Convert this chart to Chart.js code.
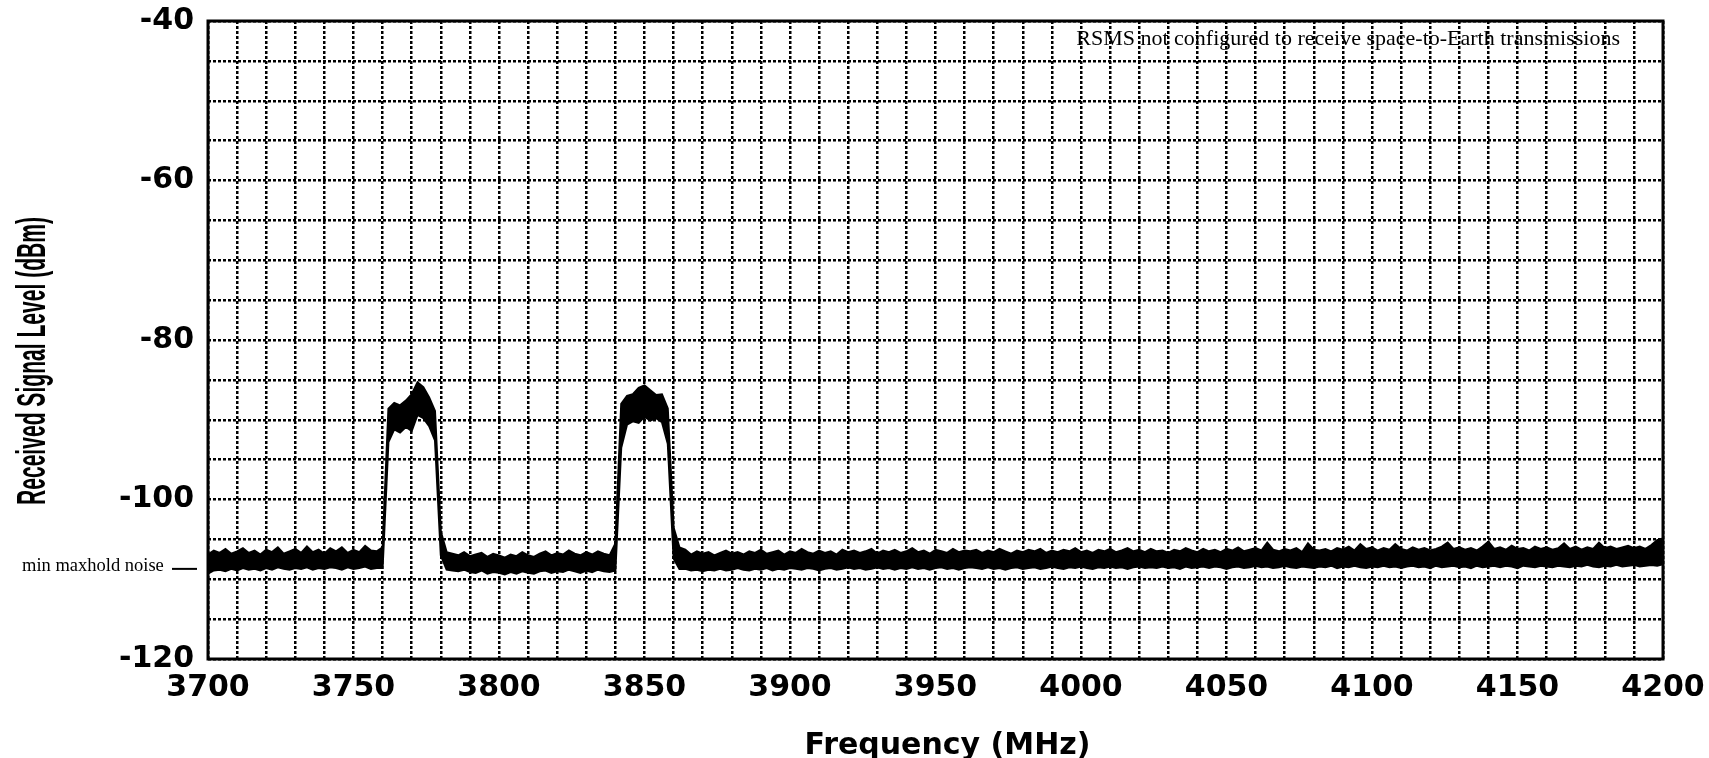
<!DOCTYPE html>
<html>
<head>
<meta charset="utf-8">
<script src="https://cdn.jsdelivr.net/npm/chart.js@4.4.1/dist/chart.umd.min.js"></script>
<style>
  html, body { margin: 0; padding: 0; background: #fff; }
  #wrap { width: 1709px; height: 758px; position: relative; }
</style>
</head>
<body>
<div id="wrap"><canvas id="spectrum_canvas"></canvas></div>
<script>
// spectrum sweep, one bin every 2 MHz
const freqs = [];
for (let f = 3700; f <= 4200; f += 2) freqs.push(f);

// max of the trace in each bin (dBm)
const traceMax = [
  -106.9, -106.4, -106.7, -106.2, -106.8, -106.5, -106.1, -106.7, -106.4, -106.9,
  -106.3, -106.6, -106.0, -106.8, -106.5, -106.2, -106.7, -105.9, -106.6, -106.3,
  -106.8, -106.1, -106.5, -106.0, -106.7, -106.3, -106.6, -105.8, -106.4, -106.5,
  -106.0,
  -88.6, -87.9, -88.2, -87.6, -86.8, -85.3, -85.9, -87.2, -88.9,
  -104.0, -106.6,
  -106.8, -107.0, -106.6, -107.1, -106.9, -106.7, -107.2, -106.8, -107.0, -107.3,
  -106.9, -107.1, -106.6, -107.0, -107.2, -106.8, -106.5, -107.0, -106.7, -106.9,
  -106.4, -106.8, -107.0, -106.6, -106.9, -106.5, -106.8, -107.0,
  -105.5,
  -88.0, -87.0, -86.8, -86.0, -85.7, -86.3, -86.9, -86.8, -88.6,
  -103.5, -106.0,
  -106.3, -106.9, -106.5, -106.8, -106.6, -107.0, -106.7, -106.4, -106.8, -106.6,
  -106.9, -106.5, -106.7, -106.3, -106.8, -106.6, -106.4, -106.9, -106.5, -106.7,
  -106.2, -106.6, -106.8, -106.4, -106.7, -106.5, -106.9, -106.3, -106.6, -106.4,
  -106.7, -106.5, -106.2, -106.8, -106.4, -106.6, -106.3, -106.7, -106.5, -106.1,
  -106.6, -106.4, -106.8, -106.3, -106.5, -106.7, -106.2, -106.6, -106.4, -106.5,
  -106.3, -106.7, -106.4, -106.6, -106.2, -106.5, -106.8, -106.4, -106.6, -106.3,
  -106.5, -106.2, -106.7, -106.4, -106.6, -106.3, -106.5, -106.1, -106.6, -106.4,
  -106.7, -106.3, -106.5, -106.2, -106.6, -106.4, -106.1, -106.5, -106.3, -106.6,
  -106.2, -106.5, -106.4, -106.7, -106.3, -106.5, -106.1, -106.4, -106.6, -106.2,
  -106.5, -106.3, -106.6, -106.2, -106.4, -106.0, -106.5, -106.3, -106.1, -106.4,
  -105.4, -106.3, -106.5, -106.2, -106.4, -106.1, -106.6, -105.5, -106.3, -106.4,
  -106.2, -106.5, -106.1, -106.3, -105.9, -106.4, -105.6, -106.2, -106.0, -106.4,
  -106.1, -106.3, -105.6, -106.2, -106.4, -106.0, -106.3, -106.1, -106.4, -106.2,
  -105.9, -105.4, -106.2, -106.0, -106.3, -106.1, -106.4, -105.9, -105.3, -106.2,
  -106.0, -106.3, -105.8, -106.2, -106.1, -106.4, -105.9, -106.2, -106.0, -106.3,
  -106.1, -105.5, -106.2, -105.9, -106.3, -106.0, -106.2, -105.4, -106.1, -105.9,
  -106.2, -106.0, -105.8, -106.1, -105.9, -106.2, -105.7, -105.1, -104.9
];

// min of the trace in each bin (dBm)
const traceMin = [
  -109.3, -108.9, -108.8, -109.0, -108.7, -108.9, -108.6, -108.8, -108.7, -108.9,
  -108.6, -108.8, -108.5, -108.7, -108.8, -108.6, -108.7, -108.5, -108.8, -108.6,
  -108.7, -108.5, -108.6, -108.8, -108.5, -108.7, -108.6, -108.4, -108.7, -108.6,
  -108.6,
  -92.8, -91.2, -91.6, -90.9, -91.4, -89.4, -89.8, -90.8, -92.6,
  -107.0, -108.8,
  -108.9, -109.0, -108.8, -109.1, -109.2, -108.9, -109.3, -109.1, -109.2, -109.4,
  -109.1, -109.3, -109.0, -109.2, -109.3, -109.0, -108.9, -109.2, -109.0, -109.1,
  -108.8, -109.0, -109.2, -108.9, -109.1, -108.8, -109.0, -109.1,
  -108.9,
  -93.5, -90.6, -90.2, -90.4, -89.6, -90.1, -89.8, -90.3, -93.0,
  -107.4, -108.7,
  -108.7, -108.9, -108.8, -109.0, -108.8, -108.9, -108.7, -108.9, -108.8, -108.6,
  -108.8, -108.9, -108.7, -108.8, -108.6, -108.9, -108.7, -108.8, -108.6, -108.7,
  -108.8, -108.6, -108.7, -108.9, -108.7, -108.6, -108.8, -108.7, -108.5, -108.7,
  -108.6, -108.8, -108.7, -108.5, -108.7, -108.6, -108.8, -108.6, -108.7, -108.5,
  -108.7, -108.6, -108.8, -108.6, -108.5, -108.7, -108.6, -108.8, -108.6, -108.5,
  -108.6, -108.7, -108.5, -108.7, -108.6, -108.8, -108.6, -108.5, -108.7, -108.6,
  -108.5, -108.7, -108.6, -108.4, -108.6, -108.7, -108.5, -108.6, -108.4, -108.6,
  -108.7, -108.5, -108.6, -108.4, -108.6, -108.5, -108.7, -108.5, -108.4, -108.6,
  -108.5, -108.6, -108.4, -108.6, -108.5, -108.7, -108.4, -108.6, -108.5, -108.4,
  -108.6, -108.4, -108.5, -108.7, -108.5, -108.4, -108.6, -108.5, -108.3, -108.5,
  -108.4, -108.6, -108.5, -108.3, -108.5, -108.6, -108.4, -108.5, -108.6, -108.4,
  -108.5, -108.3, -108.6, -108.4, -108.5, -108.3, -108.5, -108.6, -108.4, -108.5,
  -108.3, -108.5, -108.4, -108.6, -108.4, -108.3, -108.5, -108.4, -108.6, -108.3,
  -108.5, -108.4, -108.3, -108.5, -108.4, -108.6, -108.3, -108.5, -108.4, -108.3,
  -108.5, -108.3, -108.4, -108.6, -108.3, -108.4, -108.5, -108.3, -108.4, -108.5,
  -108.3, -108.4, -108.5, -108.3, -108.4, -108.2, -108.4, -108.5, -108.3, -108.4,
  -108.2, -108.4, -108.3, -108.2, -108.4, -108.3, -108.2, -108.3, -108.1
];

const noiseMarkerLevel = -108.7; // "min maxhold noise" marker
const noteText = 'RSMS not configured to receive space-to-Earth transmissions';
const yTitle = 'Received Signal Level (dBm)';
const xTitle = 'Frequency (MHz)';

const ctx = document.getElementById('spectrum_canvas').getContext('2d');

// frame, axis titles and the two text notes
const plotDecor = {
  id: 'plotDecor',
  afterDraw(chart) {
    const c = chart.ctx;
    const a = chart.chartArea;
    const y = chart.scales.y;
    c.save();
    c.strokeStyle = '#000';
    c.lineWidth = 3;
    c.strokeRect(a.left, a.top, a.right - a.left, a.bottom - a.top);

    c.fillStyle = '#000';

    // narrow, tall y title
    c.font = "bold 41px 'Liberation Sans Narrow', 'Liberation Sans', Arial, sans-serif";
    c.textAlign = 'center';
    c.textBaseline = 'alphabetic';
    const w = c.measureText(yTitle).width;
    c.save();
    c.translate(45, 361);
    c.rotate(-Math.PI / 2);
    c.scale(288 / w, 1);
    c.fillText(yTitle, 0, 0);
    c.restore();

    c.font = "bold 30px 'DejaVu Sans', sans-serif";
    c.textBaseline = 'middle';
    c.fillText(xTitle, (a.left + a.right) / 2 + 12, 746);

    c.textBaseline = 'alphabetic';
    c.font = "22px 'Liberation Serif', 'Times New Roman', serif";
    c.textAlign = 'right';
    c.fillText(noteText, a.right - 43, a.top + 24);

    const my = y.getPixelForValue(noiseMarkerLevel);
    c.font = "18.5px 'Liberation Serif', 'Times New Roman', serif";
    c.textAlign = 'left';
    c.fillText('min maxhold noise', 22, my + 2);
    c.lineWidth = 2;
    c.beginPath();
    c.moveTo(172, my);
    c.lineTo(197, my);
    c.stroke();
    c.restore();
  }
};

const tickFont = { family: "'DejaVu Sans', sans-serif", size: 30, weight: 'bold', lineHeight: 1 };

new Chart(ctx, {
  type: 'line',
  data: {
    datasets: [{
      label: 'max',
      data: freqs.map((f, i) => ({ x: f, y: traceMax[i] })),
      borderColor: '#000',
      backgroundColor: '#000',
      borderWidth: 2,
      pointRadius: 0,
      tension: 0,
      fill: '+1'
    }, {
      label: 'min',
      data: freqs.map((f, i) => ({ x: f, y: traceMin[i] })),
      borderColor: '#000',
      borderWidth: 2,
      pointRadius: 0,
      tension: 0,
      fill: false
    }]
  },
  options: {
    responsive: true,
    maintainAspectRatio: false,
    animation: false,
    layout: { padding: { left: 0, right: 46, top: 21, bottom: 0 } },
    plugins: {
      legend: { display: false },
      tooltip: { enabled: false }
    },
    scales: {
      x: {
        type: 'linear',
        min: 3700,
        max: 4200,
        afterFit(scale) {
          scale.height = 99;
          scale.paddingLeft = 0;
          scale.paddingRight = 0;
        },
        ticks: {
          stepSize: 10,
          autoSkip: false,
          maxRotation: 0,
          padding: 14,
          color: '#000',
          font: tickFont,
          callback: v => (v % 50 === 0 ? String(v) : '')
        },
        grid: { color: '#000', lineWidth: 2.5, drawTicks: false },
        border: { display: false, dash: [3, 2] }
      },
      y: {
        min: -120,
        max: -40,
        afterFit(scale) {
          scale.width = 208;
          scale.paddingTop = 0;
          scale.paddingBottom = 0;
        },
        ticks: {
          stepSize: 5,
          autoSkip: false,
          padding: 14,
          color: '#000',
          font: tickFont,
          callback: v => (v % 20 === 0 ? String(v) : '')
        },
        grid: { color: '#000', lineWidth: 2.5, drawTicks: false },
        border: { display: false, dash: [3, 2] }
      }
    }
  },
  plugins: [plotDecor]
});
</script>
</body>
</html>
